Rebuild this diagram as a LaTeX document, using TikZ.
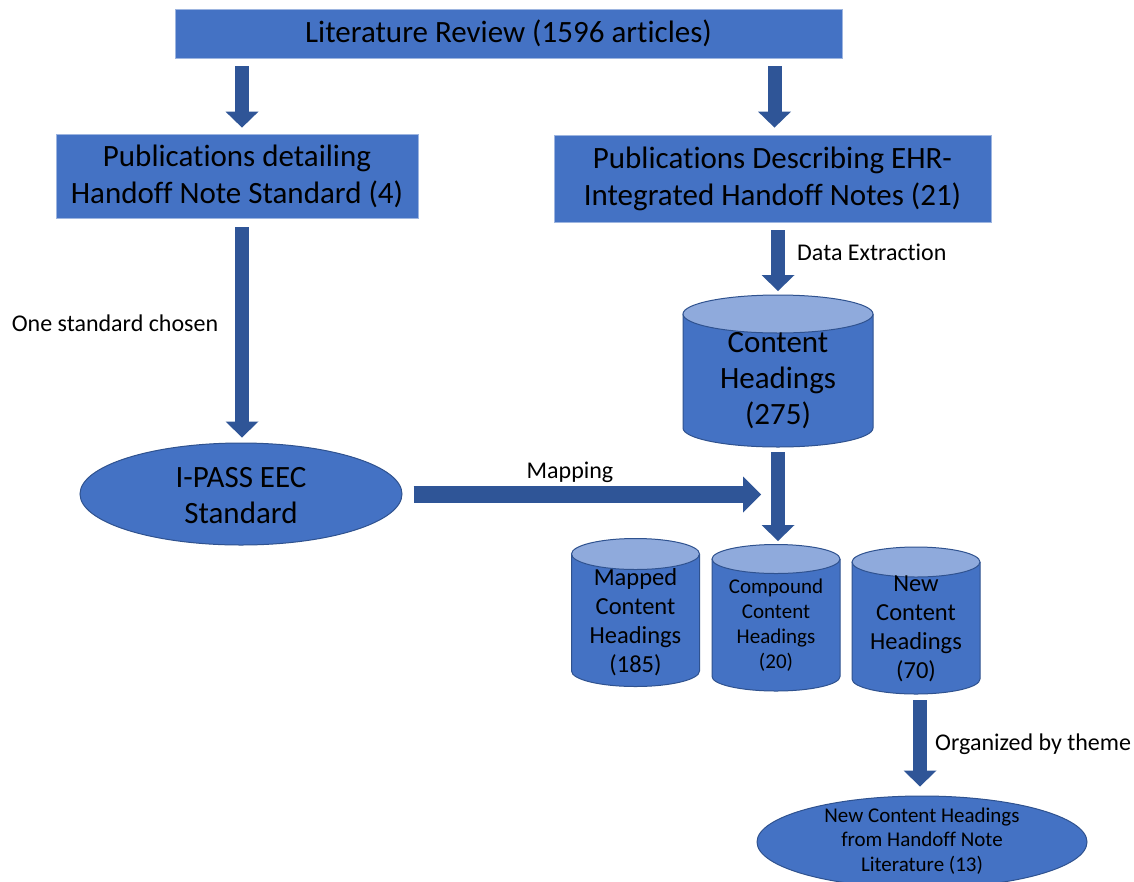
\documentclass[tikz,border=0pt]{standalone}
\usepackage{fontspec}
\setmainfont[Ligatures=NoCommon]{Carlito}
\usetikzlibrary{arrows.meta,shapes.geometric}

\definecolor{boxblue}{HTML}{4472C4}
\definecolor{edgeblue}{HTML}{2F528F}
\definecolor{lightedge}{HTML}{9DB5E0}
\definecolor{captop}{HTML}{8FAADC}
\definecolor{arrowblue}{HTML}{2F5597}

\tikzset{
  bluebox/.style={rectangle, fill=boxblue, draw=lightedge, line width=0.8pt,
    inner sep=0pt, align=center, font=\fontsize{31}{37}\selectfont},
  ovalshape/.style={ellipse, fill=boxblue, draw=edgeblue, line width=1pt, inner sep=0pt},
  bigtext/.style={align=center, inner sep=0pt, font=\fontsize{31}{36}\selectfont},
  midtext/.style={align=center, inner sep=0pt, font=\fontsize{24.5}{29}\selectfont},
  smalltext/.style={align=center, inner sep=0pt, font=\fontsize{21}{24.8}\selectfont},
  note/.style={inner sep=0pt, font=\fontsize{24}{28}\selectfont},
  blockdown/.style={draw=arrowblue, line width=14pt,
    -{Triangle[width=33pt,length=16pt,line width=0pt]}},
  blockright/.style={draw=arrowblue, line width=17pt,
    -{Triangle[width=36pt,length=18pt,line width=0pt]}},
}

% storage drum: centre x, top-ellipse centre y, bottom-ellipse centre y, x radius, y radius
\newcommand{\drum}[5]{%
  \fill[boxblue] (#1-#4,#2) -- (#1-#4,#3)
    arc[start angle=180,end angle=360,x radius=#4pt,y radius=#5pt] -- (#1+#4,#2) -- cycle;
  \draw[edgeblue, line width=1pt] (#1-#4,#2) -- (#1-#4,#3)
    arc[start angle=180,end angle=360,x radius=#4pt,y radius=#5pt] -- (#1+#4,#2);
  \draw[edgeblue, fill=captop, line width=1pt] (#1,#2) ellipse [x radius=#4pt, y radius=#5pt];
}

\begin{document}
\begin{tikzpicture}[x=1pt,y=1pt]
\useasboundingbox (0,0) rectangle (1134,-881);
\clip (0,0) rectangle (1134,-881);
\fill[white] (0,0) rectangle (1134,-881);

% boxes
\node[bluebox, minimum width=667pt, minimum height=49pt] (review) at (508.5,-33.5)
  {Literature Review (1596 articles)};
\node[bluebox, minimum width=362pt, minimum height=84pt] (pubL) at (237,-176)
  {Publications detailing\\Handoff Note Standard (4)};
\node[bluebox, minimum width=437pt, minimum height=87pt] (pubR) at (772.5,-178.5)
  {Publications Describing EHR-\\Integrated Handoff Notes (21)};

% I-PASS standard
\node[ovalshape, minimum width=322pt, minimum height=102pt] (ipass) at (241,-494) {};
\node[bigtext] (ipassText) at (241,-496) {I-PASS EEC\\Standard};

% content heading drums
\drum{778}{-314}{-428}{95}{19}
\node[bigtext] (headings) at (778,-381) {Content\\Headings\\(275)};

\drum{635.5}{-554}{-671}{64}{15.5}
\node[midtext] (mapped) at (635.5,-622) {Mapped\\Content\\Headings\\(185)};

\drum{776}{-559}{-676.5}{64}{14.5}
\node[smalltext] (compound) at (776,-625) {Compound\\Content\\Headings\\(20)};

\drum{916}{-562}{-679}{64}{15}
\node[midtext] (newheads) at (916,-629) {New\\Content\\Headings\\(70)};

% themed result
\node[ovalshape, minimum width=330pt, minimum height=92pt] (themes) at (922,-842) {};
\node[smalltext] (themesText) at (922,-841)
  {New Content Headings\\from Handoff Note\\Literature (13)};

% anchor points for the block arrows
\coordinate (xL) at (242,0);
\coordinate (xR) at (774.5,0);
\coordinate (chTop) at (778,-295);
\coordinate (chBottom) at (778,-447);
\coordinate (cmTop) at (778,-544);
\coordinate (mapEnd) at (761,-494.5);
\coordinate (cnBottom) at (920,-694);

% block arrows
\draw[blockdown, shorten <=8pt, shorten >=6pt] (review.south -| xL) -- (pubL.north -| xL);
\draw[blockdown, shorten <=8pt, shorten >=7pt] (review.south -| xR) -- (pubR.north -| xR);
\draw[blockdown, shorten <=9pt, shorten >=5pt] (pubL.south -| xL) -- (ipass.north -| xL);
\draw[blockdown, shorten <=8pt, shorten >=4pt] (pubR.south -| chTop) -- (chTop);
\draw[blockright, shorten <=11pt] (ipass.east |- mapEnd) -- (mapEnd);
\draw[blockdown, shorten <=5pt, shorten >=3pt] (chBottom) -- (cmTop);
\draw[blockdown, shorten <=6pt, shorten >=9pt] (cnBottom) -- (themes.north -| cnBottom);

% arrow labels
\node[note, anchor=base] (lblChosen) at (115,-331) {One standard chosen};
\node[note, anchor=base west] (lblExtract) at (797,-260) {Data Extraction};
\node[note, anchor=base] (lblMap) at (570,-478) {Mapping};
\node[note, anchor=base west] (lblTheme) at (935,-750) {Organized by theme};
\end{tikzpicture}
\end{document}
